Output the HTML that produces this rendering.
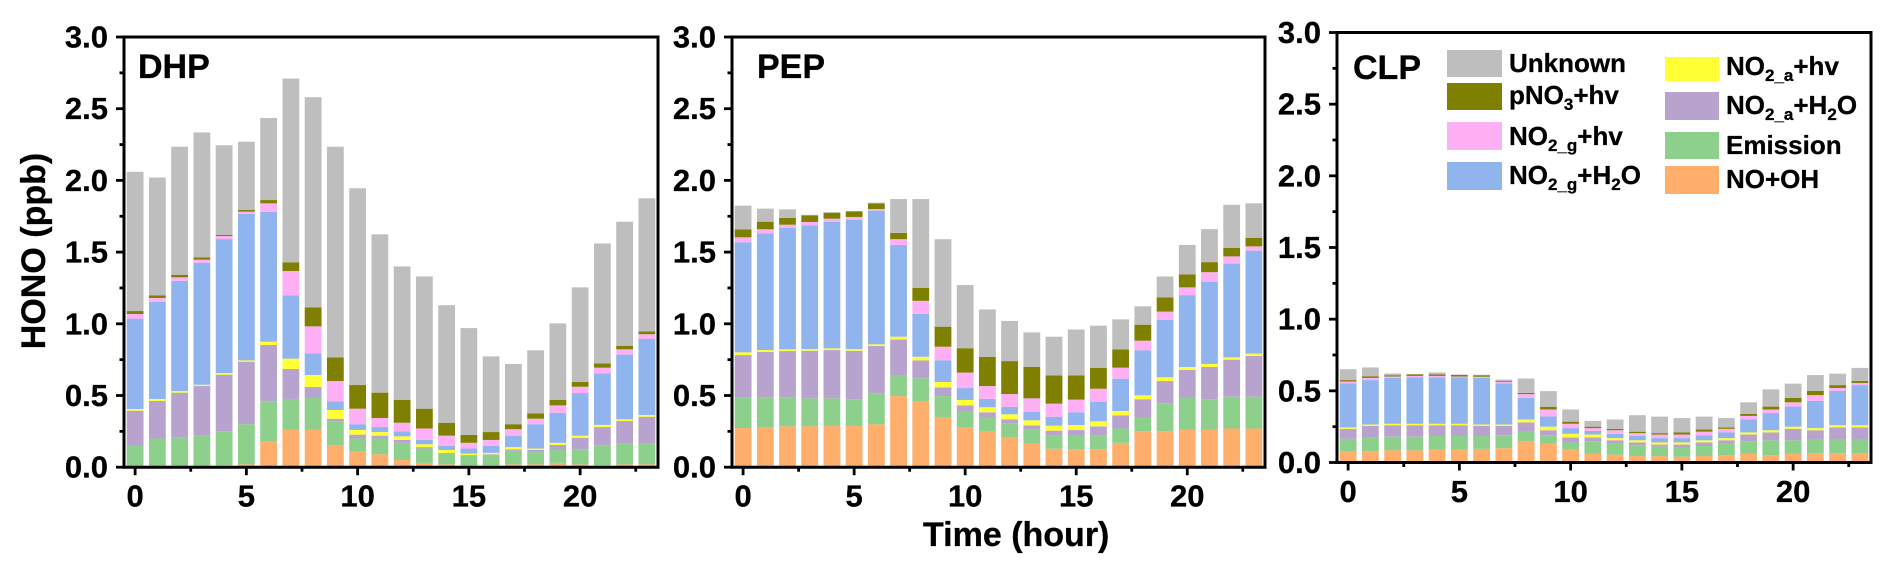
<!DOCTYPE html>
<html lang="en">
<head>
<meta charset="utf-8">
<title>HONO budget by hour</title>
<style>
html,body{margin:0;padding:0;background:#fff;}
svg{display:block;}
text{font-family:"Liberation Sans",sans-serif;font-weight:bold;fill:#000;stroke:#000;stroke-width:.3px;}
</style>
</head>
<body>
<svg id="chart" xmlns="http://www.w3.org/2000/svg" width="1892" height="573" viewBox="0 0 1892 573">
  <rect x="0" y="0" width="1892" height="573" fill="#fff"/>
  <text font-size="34" text-anchor="middle" transform="translate(45,251) rotate(-90)">HONO (ppb)</text>
  <text font-size="34" text-anchor="start" x="923" y="546">Time (hour)</text>
  <g id="panels"></g>
  <g>
    <g>
      <rect x="1447" y="50" width="55" height="27" fill="#bebebe"/>
      <text x="1509" y="72" font-size="26">Unknown</text>
    </g>
    <g>
      <rect x="1447" y="83" width="55" height="27" fill="#808000"/>
      <text x="1509" y="104" font-size="26">pNO<tspan font-size="17" dy="6">3</tspan><tspan dy="-6">+hv</tspan></text>
    </g>
    <g>
      <rect x="1447" y="122" width="55" height="28" fill="#ffb0f5"/>
      <text x="1509" y="145" font-size="26">NO<tspan font-size="17" dy="6">2_g</tspan><tspan dy="-6">+hv</tspan></text>
    </g>
    <g>
      <rect x="1447" y="162" width="55" height="28" fill="#8fb4ee"/>
      <text x="1509" y="184" font-size="26">NO<tspan font-size="17" dy="6">2_g</tspan><tspan dy="-6">+H</tspan><tspan font-size="17" dy="6">2</tspan><tspan dy="-6">O</tspan></text>
    </g>
    <g>
      <rect x="1665" y="57" width="54" height="24" fill="#ffff33"/>
      <text x="1726" y="75" font-size="26">NO<tspan font-size="17" dy="6">2_a</tspan><tspan dy="-6">+hv</tspan></text>
    </g>
    <g>
      <rect x="1665" y="92" width="54" height="28" fill="#b7a3cd"/>
      <text x="1726" y="114" font-size="26">NO<tspan font-size="17" dy="6">2_a</tspan><tspan dy="-6">+H</tspan><tspan font-size="17" dy="6">2</tspan><tspan dy="-6">O</tspan></text>
    </g>
    <g>
      <rect x="1665" y="132" width="54" height="27" fill="#8cd08c"/>
      <text x="1726" y="154" font-size="26">Emission</text>
    </g>
    <g>
      <rect x="1665" y="166" width="54" height="28" fill="#ffae6b"/>
      <text x="1726" y="188" font-size="26">NO+OH</text>
    </g>
  </g>
</svg>
<script>
// ---- Shared axis data ----
const hours = [0,1,2,3,4,5,6,7,8,9,10,11,12,13,14,15,16,17,18,19,20,21,22,23];
const yTickValues = [0,0.5,1,1.5,2,2.5,3];
const yTickLabels = ["0.0","0.5","1.0","1.5","2.0","2.5","3.0"];
const yMinorTickValues = [0.25,0.75,1.25,1.75,2.25,2.75];
const xTickValues = [0,5,10,15,20];
const xTickLabels = ["0","5","10","15","20"];
const xMinorTickValues = [2.5,7.5,12.5,17.5,22.5];
const seriesNames = ["no-oh","emission","no2a-h2o","no2a-hv","no2g-h2o","no2g-hv","pno3-hv","unknown"];
const seriesColors = ["#ffae6b","#8cd08c","#b7a3cd","#ffff33","#8fb4ee","#ffb0f5","#808000","#bebebe"];

// ---- DHP series (ppb, bottom to top) ----
const dhpNoOh    = [.005,.005,.01,.01,.015,.02,.18,.26,.26,.155,.11,.09,.05,.03,.02,.01,.015,.02,.02,.03,.02,.015,.02,.02];
const dhpEmission= [.15,.195,.20,.21,.235,.28,.28,.216,.223,.165,.09,.11,.12,.10,.075,.07,.07,.095,.085,.09,.105,.138,.144,.144];
const dhpAH2O    = [.239,.262,.31,.346,.395,.436,.392,.209,.076,.018,.027,.02,.02,.01,.005,.005,.005,.01,.015,.035,.08,.127,.158,.188];
const dhpAHv     = [.012,.014,.011,.009,.012,.009,.023,.072,.084,.061,.033,.025,.025,.02,.02,.01,.01,.015,.01,.015,.015,.015,.012,.012];
const dhpGH2O    = [.63,.678,.769,.851,.934,1.021,.905,.441,.151,.061,.04,.035,.035,.03,.03,.035,.05,.08,.17,.21,.297,.36,.451,.53];
const dhpGHv     = [.032,.026,.024,.021,.021,.016,.06,.17,.188,.141,.108,.063,.06,.08,.07,.04,.04,.045,.038,.051,.044,.039,.037,.033];
const dhpPNO3    = [.021,.019,.018,.016,.009,.012,.023,.061,.133,.165,.165,.177,.16,.138,.09,.055,.055,.035,.038,.038,.033,.03,.025,.021];
const dhpUnknown = [.971,.821,.893,.872,.624,.476,.572,1.281,1.465,1.469,1.372,1.104,.93,.922,.82,.745,.528,.42,.439,.534,.66,.836,.865,.927];

// ---- PEP series ----
const pepNoOh    = [.273,.278,.285,.285,.287,.287,.299,.496,.457,.35,.276,.248,.206,.164,.129,.125,.125,.17,.25,.25,.26,.26,.27,.27];
const pepEmission= [.212,.209,.202,.195,.193,.187,.216,.144,.163,.146,.116,.102,.10,.10,.093,.093,.097,.10,.10,.196,.223,.214,.222,.222];
const pepAH2O    = [.297,.318,.323,.332,.337,.338,.33,.25,.125,.061,.039,.033,.028,.028,.033,.041,.063,.092,.124,.155,.195,.225,.258,.284];
const pepAHv     = [.019,.012,.012,.012,.012,.012,.012,.02,.025,.037,.038,.035,.035,.035,.034,.035,.035,.03,.027,.026,.021,.021,.016,.016];
const pepGH2O    = [.767,.814,.846,.863,.883,.90,.932,.64,.30,.151,.083,.058,.051,.06,.063,.089,.137,.225,.314,.40,.501,.574,.654,.718];
const pepGHv     = [.035,.028,.023,.023,.021,.021,.011,.04,.09,.095,.108,.09,.09,.093,.091,.088,.09,.077,.067,.058,.054,.066,.05,.03];
const pepPNO3    = [.056,.053,.047,.046,.042,.039,.04,.044,.09,.14,.17,.204,.23,.22,.197,.169,.145,.128,.112,.10,.091,.07,.06,.06];
const pepUnknown = [.165,.091,.06,.004,.003,.003,.005,.236,.62,.61,.44,.33,.28,.24,.27,.32,.295,.209,.128,.145,.205,.23,.30,.24];

// ---- CLP series ----
const clpNoOh    = [.075,.08,.085,.085,.09,.09,.095,.10,.15,.13,.09,.06,.055,.045,.045,.04,.045,.05,.06,.05,.06,.065,.065,.065];
const clpEmission= [.09,.095,.095,.095,.095,.095,.09,.09,.07,.06,.05,.085,.075,.075,.065,.065,.07,.08,.085,.105,.095,.095,.095,.095];
const clpAH2O    = [.07,.08,.08,.08,.075,.075,.07,.065,.06,.035,.035,.03,.025,.02,.015,.02,.025,.025,.05,.055,.08,.065,.085,.085];
const clpAHv     = [.01,.01,.01,.01,.01,.01,.01,.01,.02,.025,.025,.02,.015,.015,.015,.015,.015,.015,.015,.015,.015,.015,.015,.015];
const clpGH2O    = [.306,.31,.32,.323,.323,.323,.325,.286,.151,.072,.04,.025,.03,.03,.03,.03,.035,.04,.09,.12,.14,.19,.24,.28];
const clpGHv     = [.014,.015,.01,.011,.011,.007,.008,.012,.026,.048,.03,.02,.025,.02,.025,.025,.025,.025,.025,.025,.03,.04,.02,.015];
const clpPNO3    = [.01,.012,.009,.01,.01,.011,.011,.007,.009,.019,.015,.01,.01,.01,.01,.015,.015,.01,.015,.02,.03,.03,.02,.015];
const clpUnknown = [.076,.061,.012,.003,.014,.003,.003,.009,.10,.109,.085,.04,.065,.115,.115,.10,.09,.065,.08,.12,.10,.11,.08,.09];

const dhpSeries = [dhpNoOh,dhpEmission,dhpAH2O,dhpAHv,dhpGH2O,dhpGHv,dhpPNO3,dhpUnknown];
const pepSeries = [pepNoOh,pepEmission,pepAH2O,pepAHv,pepGH2O,pepGHv,pepPNO3,pepUnknown];
const clpSeries = [clpNoOh,clpEmission,clpAH2O,clpAHv,clpGH2O,clpGHv,clpPNO3,clpUnknown];

const NS = "http://www.w3.org/2000/svg";
const root = document.getElementById("panels");

function mk(parent, tag, attrs) {
  const el = document.createElementNS(NS, tag);
  for (const k in attrs) el.setAttribute(k, attrs[k]);
  parent.appendChild(el);
  return el;
}

function drawPanel(cfg, series) {
  const key = cfg.title.toLowerCase();
  const xScale = h => cfg.left + (h + 0.5) / 24 * (cfg.right - cfg.left);
  const yScale = v => cfg.bottom - v / 3 * (cfg.bottom - cfg.top);
  const barW = 16.8;

  const g = mk(root, "g", {});
  
  

  hours.forEach((h, i) => {
    let acc = 0;
    series.forEach((vals, s) => {
      const y0 = yScale(acc);
      acc += vals[i];
      const y1 = yScale(acc);
      const r = mk(g, "rect", {
        x: xScale(h) - barW / 2,
        y: y1,
        width: barW,
        height: Math.max(0, y0 - y1),
        fill: seriesColors[s]
      });
      
      
    });
  });

  const ax = mk(g, "g", { stroke: "#000", fill: "none" });
  
  

  const frame = mk(ax, "path", {
    d: "M" + cfg.left + " " + cfg.top + "H" + cfg.right + "V" + cfg.bottom + "H" + cfg.left + "Z",
    "stroke-width": 3
  });
  
  

  yTickValues.forEach((v, i) => {
    const y = yScale(v);
    const t = mk(ax, "line", { x1: cfg.left - 8, x2: cfg.left, y1: y, y2: y, "stroke-width": 2.8 });
    
    
    const lbl = mk(g, "text", { x: cfg.left - 16, y: y + 10.5, "font-size": 31, "text-anchor": "end" });
    lbl.textContent = yTickLabels[i];
    
    
  });
  yMinorTickValues.forEach(v => {
    const y = yScale(v);
    const t = mk(ax, "line", { x1: cfg.left - 4.5, x2: cfg.left, y1: y, y2: y, "stroke-width": 2.8 });
    
    
  });
  xTickValues.forEach((v, i) => {
    const x = xScale(v);
    const t = mk(ax, "line", { x1: x, x2: x, y1: cfg.bottom, y2: cfg.bottom + 8, "stroke-width": 2.8 });
    
    
    const lbl = mk(g, "text", { x: x, y: cfg.bottom + 39.5, "font-size": 31, "text-anchor": "middle" });
    lbl.textContent = xTickLabels[i];
    
    
  });
  xMinorTickValues.forEach(v => {
    const x = xScale(v);
    const t = mk(ax, "line", { x1: x, x2: x, y1: cfg.bottom, y2: cfg.bottom + 4.5, "stroke-width": 2.8 });
    
    
  });

  const title = mk(g, "text", { x: cfg.titleX, y: cfg.titleY, "font-size": 34 });
  title.textContent = cfg.title;
  
  
}

drawPanel({ title: "DHP", left: 124, right: 658, top: 37, bottom: 467.2, titleX: 138, titleY: 78 }, dhpSeries);
drawPanel({ title: "PEP", left: 732, right: 1265, top: 37, bottom: 467.2, titleX: 757, titleY: 78 }, pepSeries);
drawPanel({ title: "CLP", left: 1337, right: 1871, top: 32.5, bottom: 462.5, titleX: 1353, titleY: 79 }, clpSeries);
</script>
</body>
</html>
